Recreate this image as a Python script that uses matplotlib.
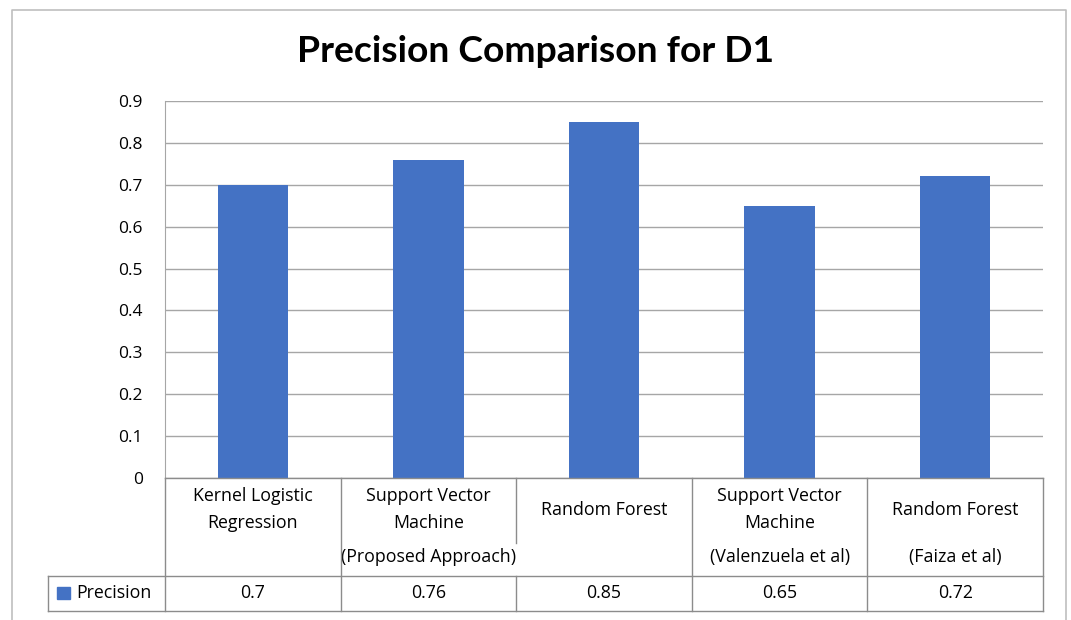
import numpy as np
import matplotlib.pyplot as plt
from matplotlib import transforms
from matplotlib.lines import Line2D
from matplotlib.patches import Rectangle

plt.rcParams['font.family'] = ['Open Sans', 'DejaVu Sans']

# data
categories = [
    ('Kernel Logistic', 'Regression', ''),
    ('Support Vector', 'Machine', '(Proposed Approach)'),
    ('Random Forest', '', ''),
    ('Support Vector', 'Machine', '(Valenzuela et al)'),
    ('Random Forest', '', '(Faiza et al)'),
]
precision = [0.7, 0.76, 0.85, 0.65, 0.72]
value_labels = ['0.7', '0.76', '0.85', '0.65', '0.72']
series_name = 'Precision'
yticks = [0, 0.1, 0.2, 0.3, 0.4, 0.5, 0.6, 0.7, 0.8, 0.9]
ytick_labels = ['0', '0.1', '0.2', '0.3', '0.4', '0.5', '0.6', '0.7', '0.8', '0.9']

W, H = 1071, 620
bar_color = '#4472C4'
grid_color = '#a6a6a6'
line_color = '#8c8c8c'
fs = 12.8


def fy(ypx):
    return 1 - ypx / H


def fx(xpx):
    return xpx / W


fig = plt.figure(figsize=(W / 100, H / 100), dpi=100)
ax = fig.add_axes([fx(165), fy(478), fx(1043) - fx(165), fy(101) - fy(478)])

xs = np.arange(len(precision))
ax.bar(xs, precision, width=0.4, color=bar_color, zorder=3)

ax.set_xlim(-0.5, len(precision) - 0.5)
ax.set_ylim(0, 0.9)
ax.set_yticks(yticks)
ax.set_yticklabels(ytick_labels, fontsize=12.5)
ax.set_xticks([])
ax.tick_params(axis='y', length=0, pad=16)
ax.grid(axis='y', color=grid_color, lw=1, zorder=0)
for s in ['top', 'right', 'bottom']:
    ax.spines[s].set_visible(False)
ax.spines['left'].set_color(grid_color)

fig.text(0.5, fy(52), 'Precision Comparison for D1', ha='center', va='center',
         fontsize=26.8, fontweight='bold', family=['Lato', 'DejaVu Sans'])

# data table below the axis
tr = transforms.blended_transform_factory(ax.transData, fig.transFigure)
n = len(precision)


def hline(y, x0, x1):
    fig.add_artist(Line2D([fx(x0), fx(x1)], [fy(y), fy(y)], color=line_color, lw=1))


def vline(xd, y0, y1):
    fig.add_artist(Line2D([xd, xd], [fy(y0), fy(y1)], color=line_color, lw=1, transform=tr))


hline(478, 165, 1043)
hline(576, 48, 1043)
hline(611, 48, 1043)
fig.add_artist(Line2D([fx(48), fx(48)], [fy(576), fy(611)], color=line_color, lw=1))
for i in range(n + 1):
    xb = i - 0.5
    if i in (2,):
        vline(xb, 478, 543)
        vline(xb, 576, 611)
    else:
        vline(xb, 478, 611)

for i, (l1, l2, l3) in enumerate(categories):
    if l2:
        ax.text(i, fy(496), l1, transform=tr, ha='center', va='center', fontsize=fs)
        ax.text(i, fy(523), l2, transform=tr, ha='center', va='center', fontsize=fs)
    else:
        ax.text(i, fy(510), l1, transform=tr, ha='center', va='center', fontsize=fs)
    if l3:
        ax.text(i, fy(557), l3, transform=tr, ha='center', va='center', fontsize=fs)
    ax.text(i, fy(593), value_labels[i], transform=tr, ha='center', va='center', fontsize=fs)

fig.add_artist(Rectangle((fx(57), fy(599)), fx(70) - fx(57), fy(587) - fy(599),
                         color=bar_color, transform=fig.transFigure))
fig.text(fx(76), fy(593), series_name, ha='left', va='center', fontsize=fs)

# outer chart border
fig.add_artist(Line2D([fx(12), fx(12), fx(1066), fx(1066)], [fy(625), fy(10), fy(10), fy(625)],
                      color='#bfbfbf', lw=1.2))

fig.savefig('out.png', dpi=100, facecolor='white')
